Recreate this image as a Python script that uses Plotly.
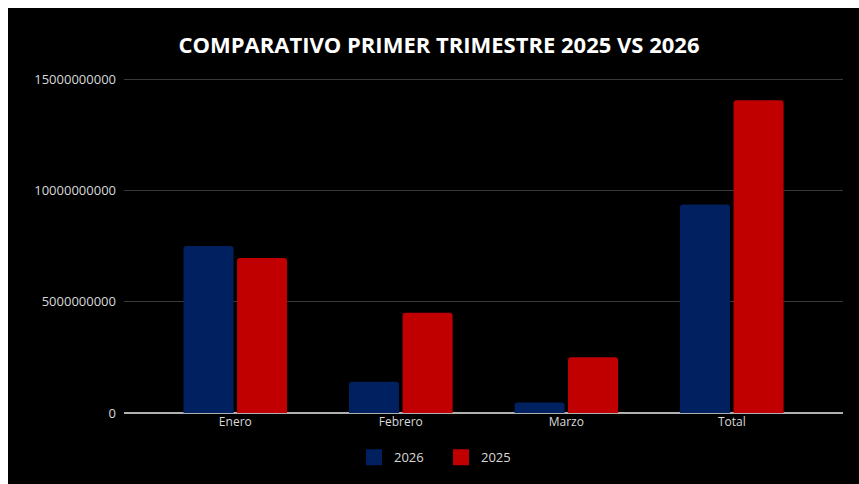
import plotly.graph_objects as go

categories = ["Enero", "Febrero", "Marzo", "Total"]
values_2026 = [7.5e9, 1.4e9, 0.47e9, 9.37e9]
values_2025 = [6.97e9, 4.5e9, 2.5e9, 14.05e9]
tick_vals = [0, 5e9, 10e9, 15e9]
tick_text = ["0", "5000000000", "10000000000", "15000000000"]

BLUE = "#002060"
RED = "#C00000"

# the chart sits 8px from the top/left edge of the page (white border there)
OFF = 8
W, H = 859 - OFF, 484 - OFF
L, R = 124 - OFF, 843 - OFF
Y0 = 413.5 - OFF
YMAX = 15.1e9
px_per = (413.5 - 79) / 15e9
T = Y0 - YMAX * px_per

fig = go.Figure()
fig.add_trace(go.Bar(x=categories, y=values_2026, name="2026", marker_color=BLUE,
                     marker_line_width=0, showlegend=False))
fig.add_trace(go.Bar(x=categories, y=values_2025, name="2025", marker_color=RED,
                     marker_line_width=0, showlegend=False))
fig.add_trace(go.Scatter(x=[None], y=[None], mode="markers", name="2026",
                         marker=dict(symbol="square", size=19, color=BLUE)))
fig.add_trace(go.Scatter(x=[None], y=[None], mode="markers", name="2025",
                         marker=dict(symbol="square", size=19, color=RED)))

fig.update_layout(
    width=W, height=H,
    margin=dict(l=L, r=W - R, t=T, b=H - Y0, pad=0),
    paper_bgcolor="black", plot_bgcolor="black",
    barmode="group", bargap=0.353, bargroupgap=0.065, barcornerradius=3,
    font=dict(family="Open Sans", color="#d9d9d9", size=12),
    title=dict(text="<b>COMPARATIVO PRIMER TRIMESTRE 2025 VS 2026</b>",
               x=(439 - OFF) / W, xanchor="center", xref="container",
               y=1 - (45 - OFF) / H, yanchor="middle", yref="container",
               font=dict(family="Open Sans", size=22, color="white")),
    legend=dict(orientation="h", x=(441 - OFF - L) / (R - L), xanchor="center",
                y=-(458 - 413.5) / (Y0 - T), yanchor="middle",
                entrywidth=42, entrywidthmode="pixels",
                font=dict(size=13, color="#d9d9d9"), bgcolor="rgba(0,0,0,0)",
                itemclick=False),
    xaxis=dict(type="category", range=[-0.6725, 3.672], showgrid=False,
               showline=False, ticks="", tickfont=dict(size=12, color="#d9d9d9"),
               fixedrange=True),
    yaxis=dict(range=[0, YMAX], tickvals=tick_vals, ticktext=tick_text,
               showgrid=True, gridcolor="#3a3a3a", gridwidth=1,
               zeroline=True, zerolinecolor="#b0b0b0", zerolinewidth=2,
               showline=False, ticks="", ticklabelstandoff=7,
               tickfont=dict(size=13, color="#d9d9d9"), fixedrange=True),
)

fig.write_html(
    "out.html",
    post_script=(
        "var de=document.documentElement, b=document.body;"
        "de.style.overflow='hidden'; de.style.background='black';"
        "b.style.overflow='hidden'; b.style.margin='0';"
        "b.style.borderTop='8px solid white'; b.style.borderLeft='8px solid white';"
    ),
)
